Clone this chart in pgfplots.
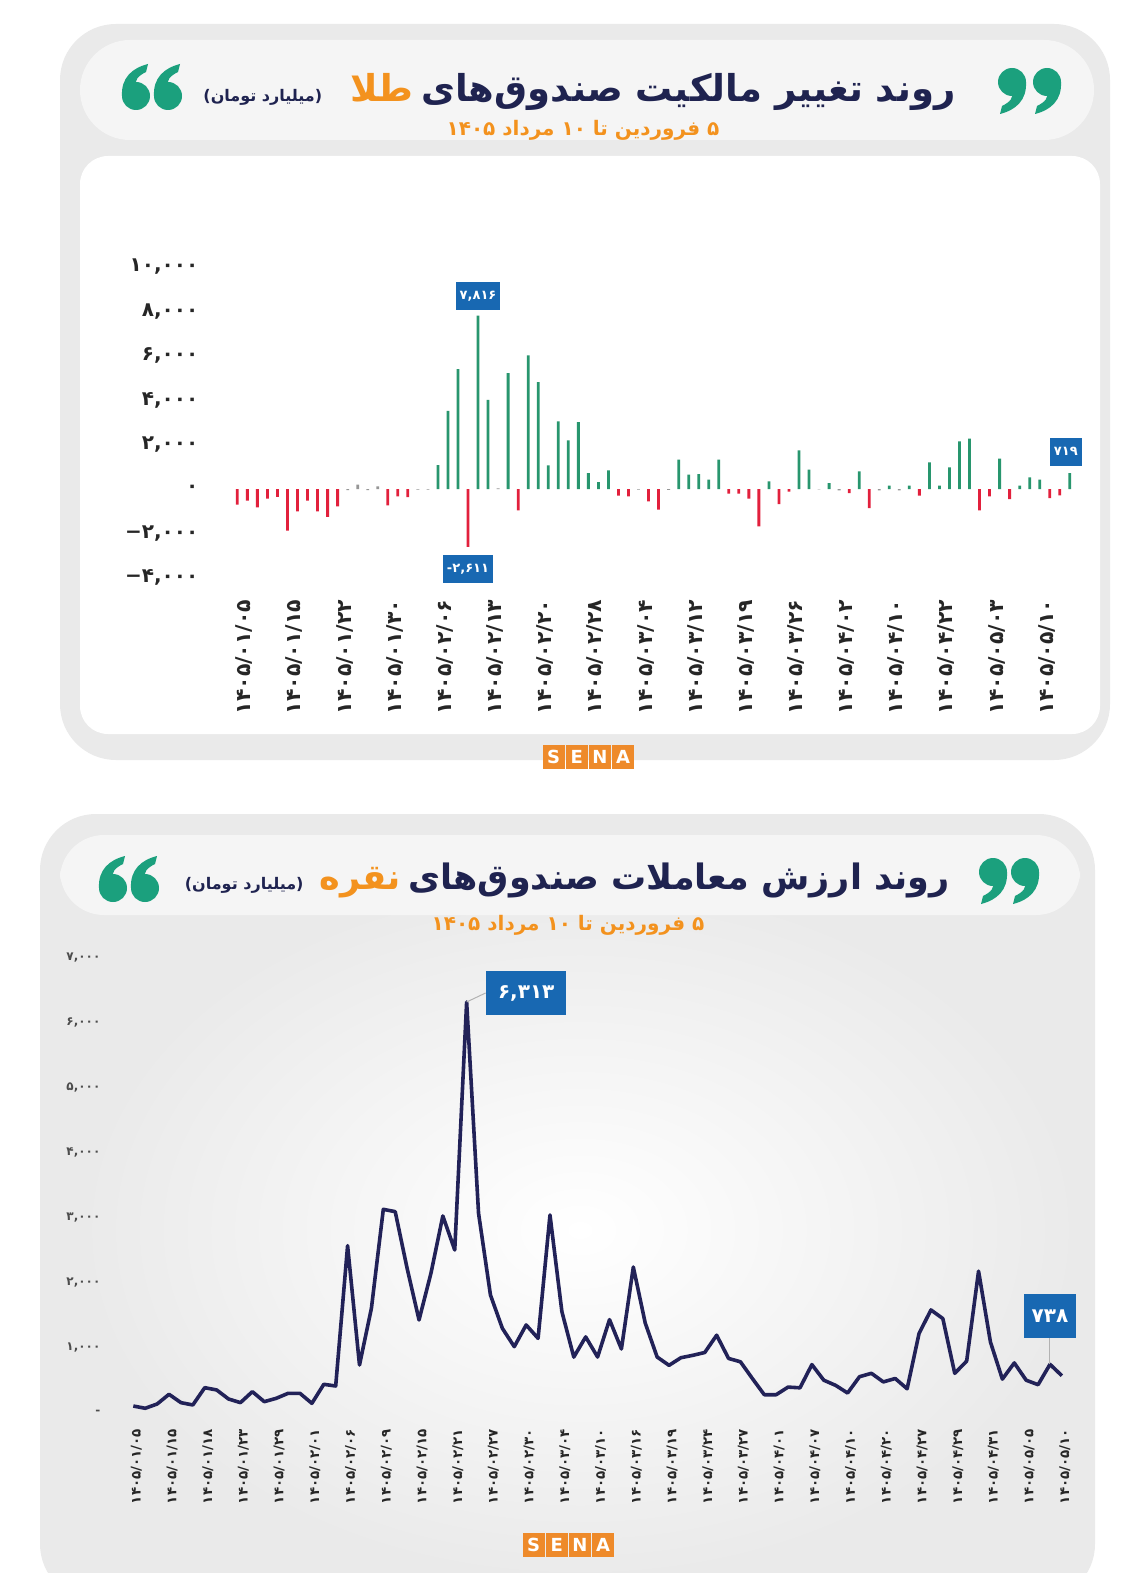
\documentclass[border=0pt]{standalone}
\usepackage{pgfplots}
\pgfplotsset{compat=1.18}
\usepackage{fontspec}
\setmainfont{DejaVu Sans}
\newfontfamily\fa[Script=Arabic]{DejaVu Sans}
\newfontfamily\lat{DejaVu Sans}
\TeXXeTstate=1
\definecolor{navy}{RGB}{31,35,80}
\definecolor{orng}{RGB}{243,146,30}
\definecolor{qgreen}{RGB}{27,160,125}
\definecolor{bgreen}{RGB}{40,150,110}
\definecolor{bred}{RGB}{226,32,60}
\definecolor{bgrey}{RGB}{150,150,150}
\definecolor{boxblue}{RGB}{24,104,178}
\definecolor{linenavy}{RGB}{34,34,88}
\definecolor{cardgray}{RGB}{234,234,234}
\definecolor{pillgray}{RGB}{245,245,245}
\definecolor{senaor}{RGB}{238,138,42}
\tikzset{
  topbox/.style={fill=boxblue, text=white, font=\fa\bfseries\fontsize{6.5}{6.5}\selectfont, inner xsep=2pt, minimum height=14pt},
  botbox/.style={fill=boxblue, text=white, font=\fa\bfseries\fontsize{10}{10}\selectfont, inner xsep=3pt, minimum height=22pt}}
\newcommand{\nine}[3]{% x y angle
  \begin{scope}[shift={(#1,#2)},rotate=#3]
  \fill[qgreen] (0,0) circle (7pt);
  \fill[qgreen] (7pt,0) .. controls (7.5pt,-9pt) and (2pt,-14pt) .. (-6pt,-16pt)
     -- (-5pt,-12pt) .. controls (-1pt,-10pt) and (1pt,-8pt) .. (0pt,-4pt) -- cycle;
  \end{scope}}
\newcommand{\sena}[2]{% left x, top y
  \begin{scope}[shift={(#1,#2)}]
  \foreach \i/\l in {0/S,1/E,2/N,3/A}{
    \fill[senaor] (\i*11.6pt+0.3pt,0) rectangle (\i*11.6pt+11.3pt,-12pt);
    \node[text=white, font=\bfseries\fontsize{9}{9}\selectfont, inner sep=0] at (\i*11.6pt+5.8pt,-6pt) {\l};}
  \end{scope}}
\begin{document}
\begin{tikzpicture}
\useasboundingbox (0,0) rectangle (567pt,-786.5pt);
\fill[white] (0,0) rectangle (567pt,-786.5pt);
% ---------- top card
\fill[cardgray, rounded corners=28pt] (30pt,-12pt) rectangle (555pt,-380pt);
\fill[pillgray, rounded corners=25pt] (40pt,-20pt) rectangle (547pt,-70pt);
\fill[white, rounded corners=14pt] (40pt,-78pt) rectangle (550pt,-367pt);
\nine{506pt}{-41pt}{0}
\nine{523.5pt}{-41pt}{0}
\nine{68pt}{-48pt}{180}
\nine{84pt}{-48pt}{180}
\node[anchor=east, inner sep=0, font=\fa\bfseries\fontsize{18.5}{18.5}\selectfont] at (478pt,-46pt)
 {{\fontsize{8}{8}\selectfont\color{navy}{\lat(}\beginR میلیارد تومان\endR{\lat)}}\hspace{14pt}{\color{orng}\beginR طلا\endR}\hspace{4pt}{\color{navy}\beginR روند تغییر مالکیت صندوق‌های\endR}};
\node[text=orng, inner sep=0, font=\fa\bfseries\fontsize{10}{10}\selectfont] at (291.5pt,-65pt)
 {\beginR ۵ فروردین تا \beginL۱۰\endL{} مرداد \beginL۱۴۰۵\endL\endR};
\sena{271pt}{-372.5pt}
% ---------- bottom card
\fill[cardgray, rounded corners=28pt] (20pt,-407pt) rectangle (547.5pt,-800pt);
\shade[inner color=white, outer color=cardgray] (40pt,-440pt) rectangle (540pt,-790pt);
\fill[pillgray, rounded corners=22pt] (30pt,-417.5pt) rectangle (540pt,-457.5pt);
\nine{496.5pt}{-436pt}{0}
\nine{512.5pt}{-436pt}{0}
\nine{56.5pt}{-444pt}{180}
\nine{72.5pt}{-444pt}{180}
\node[anchor=east, inner sep=0, font=\fa\bfseries\fontsize{17.5}{17.5}\selectfont] at (475pt,-440pt)
 {{\fontsize{8}{8}\selectfont\color{navy}{\lat(}\beginR میلیارد تومان\endR{\lat)}}\hspace{8pt}{\color{orng}\beginR نقره\endR}\hspace{4pt}{\color{navy}\beginR روند ارزش معاملات صندوق‌های\endR}};
\node[text=orng, inner sep=0, font=\fa\bfseries\fontsize{10}{10}\selectfont] at (284pt,-462.5pt)
 {\beginR ۵ فروردین تا \beginL۱۰\endL{} مرداد \beginL۱۴۰۵\endL\endR};
\sena{261pt}{-766.5pt}
% ---------- top chart
\begin{axis}[
  at={(113.65pt,-293.35pt)}, anchor=south west,
  scale only axis, width=426.275pt, height=164.28pt,
  xmin=-1, xmax=84, ymin=-4400, ymax=10400,
  axis line style={draw=none}, tick style={draw=none},
  clip=false, scaled y ticks=false,
  ytick={-4000,-2000,0,2000,4000,6000,8000,10000},
  yticklabels={{{\lat −}۴,۰۰۰},{{\lat −}۲,۰۰۰},{۰},{۲,۰۰۰},{۴,۰۰۰},{۶,۰۰۰},{۸,۰۰۰},{۱۰,۰۰۰}},
  yticklabel style={font=\fa\bfseries\fontsize{10}{10}\selectfont, text=black!85, xshift=-11pt},
  xtick={0,5,...,80},
  xticklabels={{۱۴۰۵/۰۱/۰۵},{۱۴۰۵/۰۱/۱۵},{۱۴۰۵/۰۱/۲۲},{۱۴۰۵/۰۱/۳۰},{۱۴۰۵/۰۲/۰۶},{۱۴۰۵/۰۲/۱۳},{۱۴۰۵/۰۲/۲۰},{۱۴۰۵/۰۲/۲۸},{۱۴۰۵/۰۳/۰۴},{۱۴۰۵/۰۳/۱۲},{۱۴۰۵/۰۳/۱۹},{۱۴۰۵/۰۳/۲۶},{۱۴۰۵/۰۴/۰۲},{۱۴۰۵/۰۴/۱۰},{۱۴۰۵/۰۴/۲۲},{۱۴۰۵/۰۵/۰۳},{۱۴۰۵/۰۵/۱۰}},
  xticklabel style={rotate=90, anchor=east, font=\fa\bfseries\fontsize{10.2}{10.2}\selectfont, text=black!85, yshift=-3.5pt, xshift=-3pt},
]
\addplot[ybar, bar width=1.4pt, bar shift=0pt, fill=bgreen, draw=none] coordinates {
(20,1080)(21,3525)(22,5400)(24,7816)(25,4020)(27,5220)(29,6015)(30,4815)(31,1065)(32,3045)(33,2190)(34,3015)(35,720)(36,315)(37,840)(44,1320)(45,645)(46,675)(47,420)(48,1320)(53,345)(56,1740)(57,870)(59,270)(62,795)(65,150)(67,150)(69,1200)(70,150)(71,975)(72,2145)(73,2265)(76,1365)(78,150)(79,525)(80,420)(83,719)};
\addplot[ybar, bar width=1.4pt, bar shift=0pt, fill=bred, draw=none] coordinates {
(0,-705)(1,-525)(2,-825)(3,-435)(4,-350)(5,-1875)(6,-1005)(7,-525)(8,-1005)(9,-1260)(10,-780)(15,-735)(16,-330)(17,-360)(23,-2611)(28,-960)(38,-300)(39,-330)(41,-555)(42,-930)(49,-210)(50,-210)(51,-435)(52,-1680)(54,-675)(55,-120)(61,-180)(63,-855)(68,-300)(74,-960)(75,-330)(77,-450)(81,-405)(82,-285)};
\addplot[ybar, bar width=1.4pt, bar shift=0pt, fill=bgrey, draw=none] coordinates {
(11,-50)(12,200)(13,-50)(14,120)(18,-30)(19,-30)(26,30)(40,-30)(43,-40)(58,-20)(60,-60)(64,-60)(66,-60)};
\node[topbox, anchor=south, yshift=2.5pt] at (axis cs:24,7816) {۷,۸۱۶};
\node[topbox, anchor=north, yshift=-4pt] at (axis cs:23,-2611) {{\lat -}۲,۶۱۱};
\node[topbox, anchor=south, yshift=3.5pt, xshift=-2pt] at (axis cs:83,719) {۷۱۹};
\end{axis}
% ---------- bottom chart
\begin{axis}[
  at={(60.7pt,-709.4pt)}, anchor=south west,
  scale only axis, width=476.2pt, height=234pt,
  xmin=-1, xmax=79, ymin=-100, ymax=7100,
  axis line style={draw=none}, tick style={draw=none},
  clip=false, scaled y ticks=false,
  ytick={0,1000,2000,3000,4000,5000,6000,7000},
  yticklabels={{-},{۱,۰۰۰},{۲,۰۰۰},{۳,۰۰۰},{۴,۰۰۰},{۵,۰۰۰},{۶,۰۰۰},{۷,۰۰۰}},
  yticklabel style={font=\fa\bfseries\fontsize{6}{6}\selectfont, text=black!70, xshift=-7pt},
  xtick={0,3,...,78},
  xticklabels={{۱۴۰۵/۰۱/۰۵},{۱۴۰۵/۰۱/۱۵},{۱۴۰۵/۰۱/۱۸},{۱۴۰۵/۰۱/۲۳},{۱۴۰۵/۰۱/۲۹},{۱۴۰۵/۰۲/۰۱},{۱۴۰۵/۰۲/۰۶},{۱۴۰۵/۰۲/۰۹},{۱۴۰۵/۰۲/۱۵},{۱۴۰۵/۰۲/۲۱},{۱۴۰۵/۰۲/۲۷},{۱۴۰۵/۰۲/۳۰},{۱۴۰۵/۰۳/۰۴},{۱۴۰۵/۰۳/۱۰},{۱۴۰۵/۰۳/۱۶},{۱۴۰۵/۰۳/۱۹},{۱۴۰۵/۰۳/۲۴},{۱۴۰۵/۰۳/۲۷},{۱۴۰۵/۰۴/۰۱},{۱۴۰۵/۰۴/۰۷},{۱۴۰۵/۰۴/۱۰},{۱۴۰۵/۰۴/۲۰},{۱۴۰۵/۰۴/۲۷},{۱۴۰۵/۰۴/۲۹},{۱۴۰۵/۰۴/۳۱},{۱۴۰۵/۰۵/۰۵},{۱۴۰۵/۰۵/۱۰}},
  xticklabel style={rotate=90, anchor=east, font=\fa\bfseries\fontsize{6.7}{6.7}\selectfont, text=black!85, yshift=-1.5pt, xshift=-1.5pt},
]
\addplot[linenavy, line width=1.8pt, line join=round] coordinates {
(0,97)(1,62)(2,128)(3,277)(4,149)(5,113)(6,379)(7,344)(8,205)(9,149)(10,318)(11,164)(12,215)(13,292)(14,292)(15,138)(16,431)(17,405)(18,2564)(19,728)(20,1600)(21,3123)(22,3087)(23,2215)(24,1421)(25,2138)(26,3021)(27,2497)(28,6313)(29,3062)(30,1805)(31,1292)(32,1010)(33,1344)(34,1138)(35,3036)(36,1549)(37,850)(38,1160)(39,851)(40,1426)(41,974)(42,2235)(43,1374)(44,851)(45,723)(46,840)(47,877)(48,920)(49,1186)(50,829)(51,777)(52,520)(53,271)(54,271)(55,388)(56,377)(57,734)(58,494)(59,414)(60,297)(61,548)(62,600)(63,468)(64,520)(65,362)(66,1212)(67,1575)(68,1442)(69,600)(70,788)(71,2172)(72,1080)(73,511)(74,760)(75,494)(76,425)(77,738)(78,563)};
\draw[gray!60, line width=0.5pt] (axis cs:28,6313) -- ([xshift=9.5pt,yshift=4.5pt]axis cs:28,6313);
\node[botbox, anchor=west, xshift=9.5pt, yshift=4.5pt, inner xsep=6pt] at (axis cs:28,6313) {۶,۳۱۳};
\draw[gray!60, line width=0.5pt] (axis cs:77,738) -- ([yshift=13pt]axis cs:77,738);
\node[botbox, anchor=south, yshift=13pt, inner xsep=4pt] at (axis cs:77,738) {۷۳۸};
\end{axis}
\end{tikzpicture}
\end{document}
